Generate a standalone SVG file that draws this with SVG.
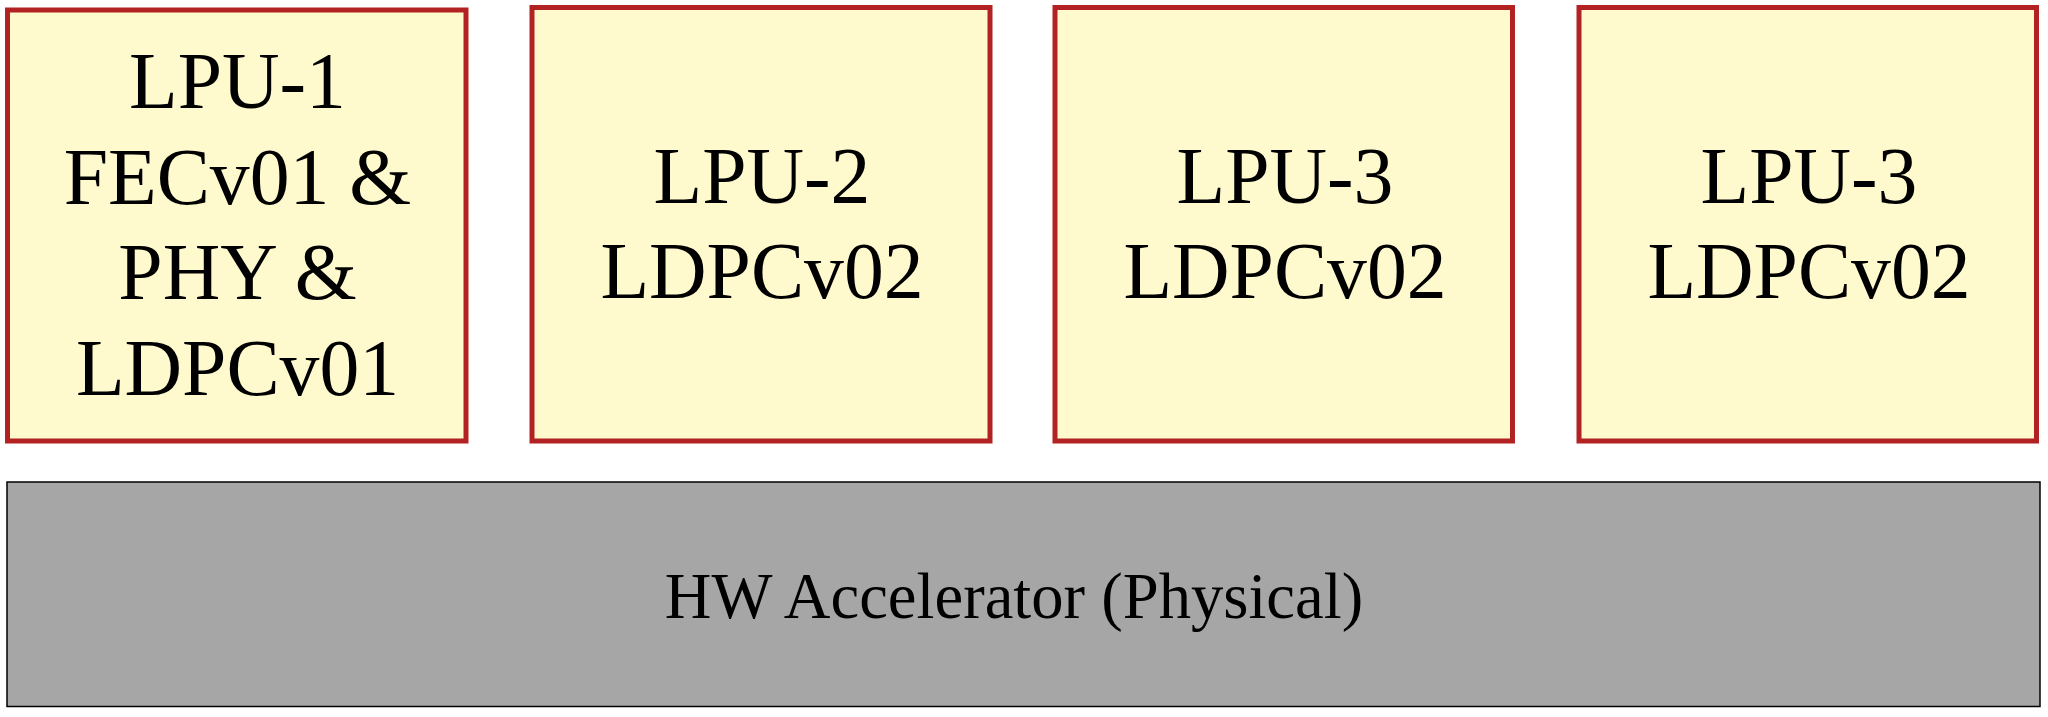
<svg xmlns="http://www.w3.org/2000/svg" width="2048" height="717" viewBox="0 0 2048 717">
  <style>
    .lpu { fill: #FFF9CE; stroke: #B22222; stroke-width: 5; }
    .hw { fill: #A6A6A6; stroke: #000000; stroke-width: 1.5; }
    .t { font-family: "Liberation Serif", "Times New Roman", serif; fill: #000000; text-anchor: middle; }
    .big { font-size: 79.7px; }
    .mid { font-size: 64.6px; }
  </style>
  <rect width="2048" height="717" fill="#FFFFFF"/>
  <g id="lpu1">
    <rect class="lpu" x="7.5" y="10" width="458.5" height="431"/>
    <text class="t big" x="237.5" y="108">LPU-1</text>
    <text class="t big" x="237.5" y="203.5">FECv01 &amp;</text>
    <text class="t big" x="237.5" y="299">PHY &amp;</text>
    <text class="t big" x="237.5" y="394.5">LDPCv01</text>
  </g>
  <g id="lpu2">
    <rect class="lpu" x="532" y="7.5" width="458" height="433.5"/>
    <text class="t big" x="762" y="203">LPU-2</text>
    <text class="t big" x="762" y="298">LDPCv02</text>
  </g>
  <g id="lpu3a">
    <rect class="lpu" x="1055" y="7.5" width="457.5" height="433.5"/>
    <text class="t big" x="1285" y="203">LPU-3</text>
    <text class="t big" x="1285" y="298">LDPCv02</text>
  </g>
  <g id="lpu3b">
    <rect class="lpu" x="1579" y="7.5" width="457.5" height="433.5"/>
    <text class="t big" x="1809" y="203">LPU-3</text>
    <text class="t big" x="1809" y="298">LDPCv02</text>
  </g>
  <g id="hw">
    <rect class="hw" x="7" y="482" width="2033" height="224.5"/>
    <text class="t mid" x="1014" y="617.5">HW Accelerator (Physical)</text>
  </g>
  <g id="connectors"></g>
</svg>
